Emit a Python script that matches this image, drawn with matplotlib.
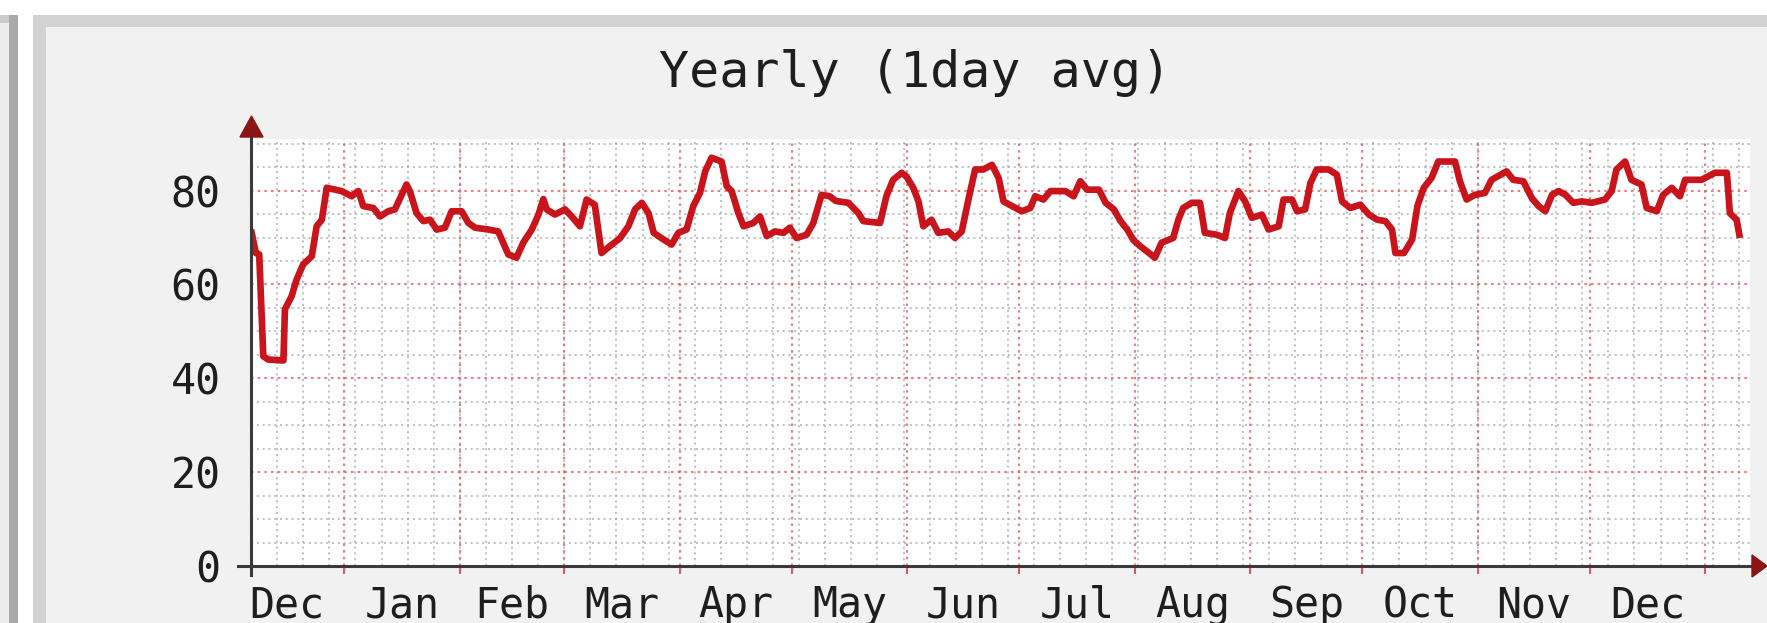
#!/usr/bin/env python3
"""Yearly (1day avg) rrdtool-style graph, redrawn with matplotlib."""
import matplotlib
matplotlib.use('Agg')
import matplotlib.pyplot as plt
from matplotlib.patches import Rectangle, Polygon
from matplotlib.lines import Line2D

# --- Canvas (pixels) ---
W, H = 1767, 623

plt.rcParams.update({
    'font.family': 'DejaVu Sans Mono',
    'figure.facecolor': 'white',
})

# --- Data: day offset from the left edge (7 Dec) and daily average ---
days = [0, 1.3, 2.2, 3.3, 4.6, 8.7, 9.1, 10.9, 12.2, 14, 16.3, 17.6, 19, 20.3,
        24.3, 27, 28.8, 30.1, 32.8, 34.6, 36.8, 38.6, 40, 41.7, 42.6, 44.4,
        46.2, 48, 49.8, 52, 53.8, 56.5, 58.3, 60.1, 63.7, 66.3, 69, 71.2, 73,
        75.3, 77.1, 78.4, 79.3, 81.5, 84.2, 86, 88.2, 90, 92.2, 94, 96.3, 99,
        101.2, 103, 104.8, 106.6, 108, 110.6, 112.8, 114.6, 116.8, 118.6,
        120.4, 121.8, 123.5, 126.2, 127.6, 128.9, 130.7, 132.1, 134.7, 136.5,
        138.3, 140.5, 142.8, 144.5, 146.3, 149, 150.8, 153, 155.2, 156.8,
        160.2, 162.9, 164.2, 168.7, 170.4, 172.2, 174.5, 175.8, 177.6, 179,
        180.3, 182.5, 184.3, 187, 188.8, 190.6, 192.4, 194.2, 196.4, 198.7,
        200.5, 201.8, 204.1, 206.7, 209, 210.3, 212.5, 214.4, 218.4, 220.6,
        222.4, 224.2, 227.4, 229.2, 231.4, 233.2, 235, 236.6, 238.4, 240.2,
        242.4, 244.2, 247.3, 248.7, 250, 252.3, 254.5, 255.8, 259, 261.2,
        262.5, 264.8, 266.6, 268.4, 271.1, 272.9, 275.6, 276.9, 279.2, 280.5,
        282.7, 284.1, 285.8, 289, 291.2, 292.6, 294.8, 297.5, 299.8, 302,
        304.2, 306, 306.9, 309.2, 311.4, 312.8, 314.5, 316.6, 318.4, 322.9,
        324.2, 326, 328.2, 330.9, 332.7, 336.7, 338.5, 341.2, 343.5, 345.3,
        347.1, 348.9, 350.7, 352.5, 354.6, 356.9, 359.6, 363.1, 364.9, 366.2,
        368.5, 370.2, 372.9, 374.3, 377, 378.7, 381, 383.2, 384.6, 389, 392.6,
        395.8, 396.6, 398.4, 399.3]
values = [71.7, 66.7, 66.4, 44.7, 44.0, 43.8, 54.7, 57.5, 61, 64.3, 66, 72.4,
          73.8, 80.6, 79.9, 78.8, 79.9, 76.7, 76.3, 74.5, 75.6, 76, 78.4, 81.3,
          79.9, 75.2, 73.5, 73.8, 71.7, 72.1, 75.6, 75.6, 73.1, 72.1, 71.7,
          71.3, 66.4, 65.7, 68.9, 71.7, 74.9, 78.2, 76, 74.9, 76, 74.5, 72.4,
          78.1, 77, 66.7, 68.2, 69.9, 72.4, 76, 77.4, 75.2, 71, 69.6, 68.5, 71,
          71.7, 76.7, 79.5, 84.1, 87, 86.2, 80.9, 79.9, 75.2, 72.4, 73.1, 74.5,
          70.3, 71.3, 71, 72.1, 69.9, 70.6, 73.1, 79.1, 78.8, 77.8, 77.4, 75.2,
          73.5, 73.1, 78.8, 82.3, 83.8, 83, 80.6, 77.7, 72.4, 73.8, 71, 71.3,
          69.9, 71.3, 78.1, 84.5, 84.5, 85.5, 82.7, 77.7, 76.7, 75.6, 76.3,
          78.8, 78.1, 79.9, 79.9, 78.8, 82, 80.2, 80.2, 77.4, 76, 73.5, 71.7,
          69.5, 68.2, 67.1, 65.7, 68.9, 69.9, 73.8, 76.3, 77.4, 77.4, 71, 70.6,
          69.9, 75.2, 79.9, 77.7, 74.2, 74.9, 71.7, 72.4, 78.1, 78.1, 75.6, 76,
          81.6, 84.5, 84.5, 83.4, 77.7, 76.3, 77, 74.9, 73.8, 73.5, 71.7, 66.7,
          66.7, 69.6, 76.7, 80.6, 82.7, 86.2, 86.2, 82, 78.1, 79.1, 79.5, 82.3,
          84.1, 82.3, 82, 78.4, 76.7, 75.6, 79.1, 79.9, 79.1, 77.4, 77.7, 77.4,
          78.1, 79.9, 84.5, 86.2, 82.3, 81.3, 76.3, 75.6, 79.1, 80.6, 78.8,
          82.3, 82.3, 83.8, 83.8, 75.2, 73.8, 69.9]

# month boundaries in the same day units (1 Dec ... 1 Jan next year)
month_bounds = [-6, 25, 56, 84, 115, 145, 176, 206, 237, 268, 298, 329, 359, 390]
month_labels = ['Dec', 'Jan', 'Feb', 'Mar', 'Apr', 'May', 'Jun', 'Jul', 'Aug',
                'Sep', 'Oct', 'Nov', 'Dec']
y_ticks = [0, 20, 40, 60, 80]
title = 'Yearly (1day avg)'

X_MAX = 402
Y_MAX = 91


def fx(px):
    return px / W


def fy(py):
    return 1 - py / H


fig = plt.figure(figsize=(W / 100, H / 100), dpi=100)


def add_rect(x0, y0, x1, y1, color):
    fig.patches.append(Rectangle((fx(x0), fy(y1)), fx(x1) - fx(x0), fy(y0) - fy(y1),
                                 transform=fig.transFigure, facecolor=color,
                                 edgecolor='none', zorder=-10))


# edge of the neighbouring panel on the far left
add_rect(0, 15, 18, 23, '#cbcbcb')
add_rect(0, 23, 9, H, '#ececec')
add_rect(9, 15, 18, H, '#a9a9a9')
# this panel's frame and background
add_rect(33, 15, W, H, '#d2d2d2')
add_rect(46, 27, W, H, '#f1f1f1')

ax = fig.add_axes([fx(251), fy(566), fx(1750) - fx(251), fy(139) - fy(566)])
ax.set_facecolor('white')
for s in ax.spines.values():
    s.set_visible(False)

# --- Grid: weekly / 5-unit minors in grey, monthly / 20-unit majors in red ---
dots = (0, (1.2, 2.0))
for d in range(7, X_MAX, 7):
    ax.axvline(d, color='#9c9c9c', lw=1.3, ls=dots, alpha=0.65, zorder=1)
for v in range(5, Y_MAX, 5):
    if v % 20:
        ax.axhline(v, color='#9c9c9c', lw=1.3, ls=dots, alpha=0.65, zorder=1)
month_starts = [m for m in month_bounds if 0 < m < X_MAX]
for m in month_starts:
    ax.axvline(m, color='#e85a5a', lw=1.5, ls=dots, alpha=0.8, zorder=1.5)
for v in y_ticks[1:]:
    ax.axhline(v, color='#e85a5a', lw=1.5, ls=dots, alpha=0.8, zorder=1.5)

# --- Series ---
ax.plot(days, values, color='#c8141a', lw=4.8, solid_joinstyle='round',
        solid_capstyle='butt', zorder=3)

# --- Ticks ---
mids = [(a + b) / 2 for a, b in zip(month_bounds[:-1], month_bounds[1:])]
ax.set_xticks(month_starts)
ax.set_xticklabels([''] * len(month_starts))
ax.set_xticks(mids, minor=True)
ax.set_xticklabels(month_labels, minor=True)
ax.tick_params(axis='x', which='major', length=6, width=1.5, color='#e85a5a',
               direction='out')
ax.tick_params(axis='x', which='minor', length=0, pad=13, labelsize=30,
               labelcolor='#1e1e1e')
ax.set_yticks(y_ticks)
ax.tick_params(axis='y', length=0, pad=22, labelsize=30, labelcolor='#1e1e1e')
ax.set_xlim(0, X_MAX)
ax.set_ylim(0, Y_MAX)

# --- Axis lines with arrow heads ---
fig.add_artist(Line2D([fx(238), fx(1754)], [fy(566), fy(566)],
                      transform=fig.transFigure, color='#3a3a3a', lw=2.2, zorder=5))
fig.add_artist(Line2D([fx(251), fx(251)], [fy(575), fy(136)],
                      transform=fig.transFigure, color='#3a3a3a', lw=2.2, zorder=5))
fig.add_artist(Polygon([[fx(1752), fy(555)], [fx(1767), fy(566)], [fx(1752), fy(577)]],
                       closed=True, transform=fig.transFigure, color='#8b1414', zorder=6))
fig.add_artist(Polygon([[fx(240), fy(137)], [fx(251.5), fy(116)], [fx(263), fy(137)]],
                       closed=True, transform=fig.transFigure, color='#8b1414', zorder=6))

fig.text(fx(915), fy(87), title, ha='center', va='baseline', fontsize=36,
         color='#1e1e1e')

fig.savefig('out.png', dpi=100)
